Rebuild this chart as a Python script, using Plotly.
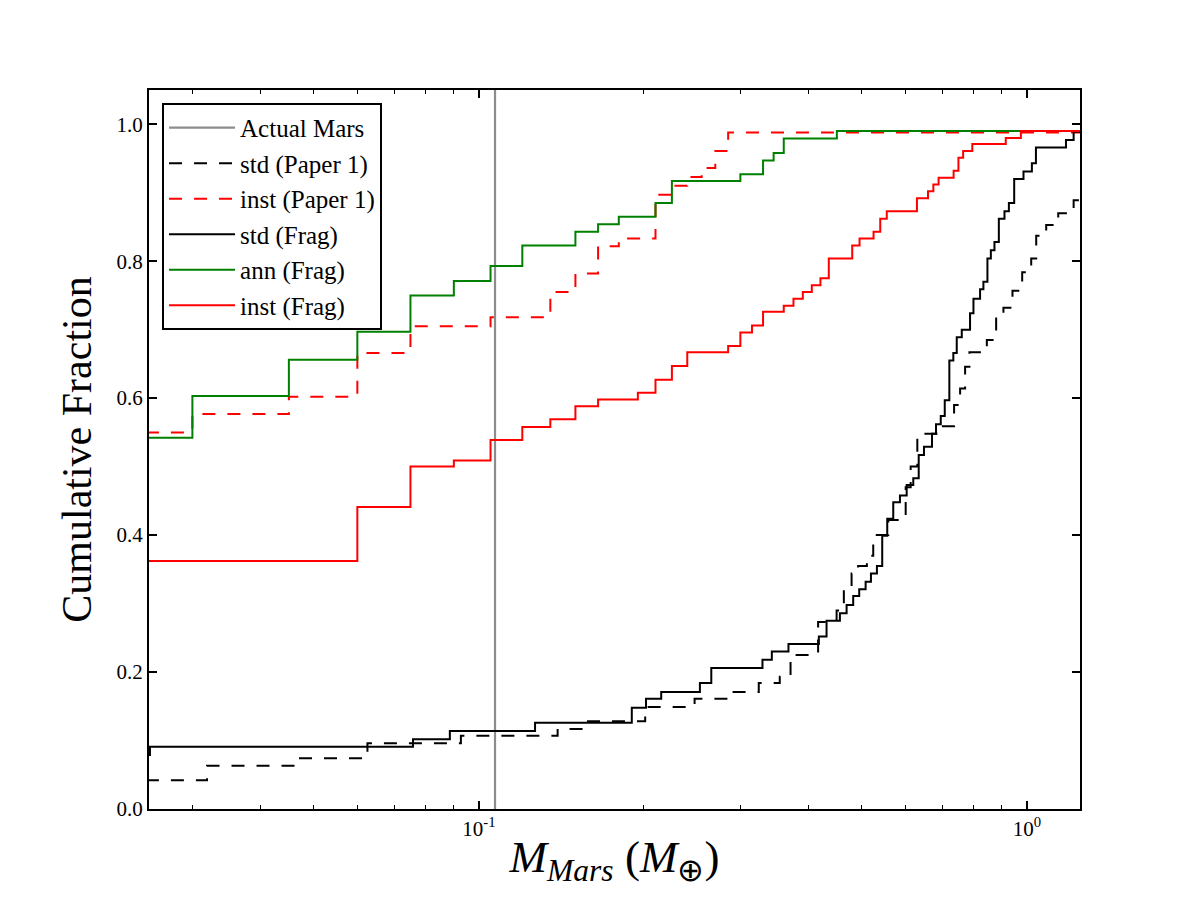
import math
import plotly.graph_objects as go

# ---------------- data ----------------
mars_mass = 0.107

# inst (Paper 1) - red dashed: jump positions and cumulative fraction after each jump
inst_p1_x = [0.02, 0.030, 0.045, 0.060, 0.075, 0.105, 0.135, 0.150, 0.165, 0.180,
             0.210, 0.225, 0.240, 0.255, 0.270, 0.285, 1.3]
inst_p1_y = [0.550, 0.577, 0.602, 0.666, 0.705, 0.718, 0.755, 0.782, 0.822, 0.833,
             0.897, 0.910, 0.923, 0.936, 0.961, 0.988, 0.988]

# ann (Frag) - green solid
ann_fr_x = [0.02, 0.030, 0.045, 0.060, 0.075, 0.090, 0.105, 0.120, 0.150, 0.165,
            0.180, 0.210, 0.225, 0.300, 0.330, 0.345, 0.360, 0.450, 1.3]
ann_fr_y = [0.542, 0.603, 0.656, 0.697, 0.750, 0.771, 0.793, 0.823, 0.843, 0.854,
            0.865, 0.885, 0.917, 0.927, 0.947, 0.958, 0.979, 0.990, 0.990]

# inst (Frag) - red solid
inst_fr_x = [0.02, 0.060, 0.075, 0.090, 0.105, 0.120, 0.135, 0.150, 0.165, 0.195,
             0.210, 0.225, 0.240, 0.285, 0.300, 0.315, 0.330, 0.360, 0.375, 0.390,
             0.405, 0.420, 0.435, 0.480, 0.495, 0.525, 0.540, 0.555, 0.630, 0.660,
             0.675, 0.690, 0.735, 0.750, 0.765, 0.795, 0.915, 0.975, 1.3]
inst_fr_y = [0.362, 0.441, 0.500, 0.509, 0.539, 0.558, 0.569, 0.588, 0.598, 0.608,
             0.627, 0.647, 0.667, 0.676, 0.696, 0.706, 0.726, 0.735, 0.745, 0.755,
             0.765, 0.775, 0.804, 0.823, 0.833, 0.843, 0.862, 0.873, 0.892, 0.902,
             0.912, 0.922, 0.932, 0.951, 0.961, 0.971, 0.980, 0.990, 0.990]

# std (Frag) - black solid
std_fr_x = [0.02, 0.0251, 0.0758, 0.0885, 0.1266, 0.1901, 0.2018, 0.2151, 0.2531, 0.2655,
            0.3292, 0.3424, 0.3672, 0.4172, 0.4309, 0.4558, 0.4688, 0.4820, 0.4943,
            0.5078, 0.5193, 0.5325, 0.5445, 0.5561, 0.5703, 0.5866, 0.6034, 0.6204,
            0.6347, 0.6489, 0.6712, 0.6826, 0.6963, 0.7081, 0.7219, 0.7341, 0.7447,
            0.7606, 0.7875, 0.7989, 0.8214, 0.8330, 0.8472, 0.8594, 0.8726, 0.8888,
            0.9101, 0.9271, 0.9480, 0.9858, 1.0212, 1.0387, 1.1785, 1.2170, 1.3]
std_fr_y = [0.079, 0.091, 0.102, 0.114, 0.126, 0.148, 0.161, 0.171, 0.184, 0.206,
            0.218, 0.230, 0.241, 0.252, 0.275, 0.286, 0.298, 0.311, 0.321,
            0.332, 0.344, 0.355, 0.399, 0.424, 0.448, 0.458, 0.473, 0.483,
            0.517, 0.529, 0.548, 0.562, 0.574, 0.597, 0.655, 0.666, 0.689,
            0.700, 0.724, 0.745, 0.759, 0.770, 0.804, 0.816, 0.828, 0.862,
            0.873, 0.885, 0.920, 0.931, 0.943, 0.966, 0.977, 0.989, 0.989]

# std (Paper 1) - black dashed
std_p1_x = [0.02, 0.0319, 0.0463, 0.0626, 0.0927, 0.1392, 0.1558, 0.2011, 0.2475, 0.2888,
            0.3241, 0.3540, 0.3704, 0.4159, 0.4495, 0.4634, 0.4787, 0.4921, 0.5105,
            0.5243, 0.5585, 0.6009, 0.6136, 0.6310, 0.6992, 0.7364, 0.7553, 0.7713,
            0.7855, 0.8451, 0.8788, 0.9061, 0.9412, 0.9804, 1.0183, 1.0399, 1.0845,
            1.1407, 1.2170, 1.3]
std_p1_y = [0.042, 0.063, 0.074, 0.096, 0.107, 0.117, 0.128, 0.149, 0.161, 0.171,
            0.184, 0.193, 0.225, 0.273, 0.290, 0.320, 0.344, 0.355, 0.370,
            0.400, 0.422, 0.470, 0.500, 0.548, 0.559, 0.590, 0.614, 0.646,
            0.667, 0.685, 0.720, 0.732, 0.757, 0.784, 0.804, 0.837, 0.853,
            0.870, 0.889, 0.889]

x_range = [0.025, 1.25]
y_range = [0.0, 1.05]
y_ticks = [0.0, 0.2, 0.4, 0.6, 0.8, 1.0]
x_major = [0.1, 1.0]
x_major_text = ["10<sup>-1</sup>", "10<sup>0</sup>"]
x_minor = [0.03, 0.04, 0.05, 0.06, 0.07, 0.08, 0.09, 0.2, 0.3, 0.4, 0.5, 0.6, 0.7, 0.8, 0.9]

# ---------------- figure ----------------
FONT = "Liberation Serif, Times New Roman, serif"
DASH = "13px,12px"

fig = go.Figure()

fig.add_trace(go.Scatter(x=[mars_mass, mars_mass], y=y_range, mode="lines",
                         line=dict(color="#8c8c8c", width=2.2), name="Actual Mars",
                         legendgroup="a"))
fig.add_trace(go.Scatter(x=std_p1_x, y=std_p1_y, mode="lines", line_shape="hv",
                         line=dict(color="black", width=2, dash=DASH),
                         name="std (Paper 1)", legendgroup="b"))
fig.add_trace(go.Scatter(x=inst_p1_x, y=inst_p1_y, mode="lines", line_shape="hv",
                         line=dict(color="#ff0000", width=2, dash=DASH),
                         name="inst (Paper 1)", legendgroup="c"))
fig.add_trace(go.Scatter(x=std_fr_x, y=std_fr_y, mode="lines", line_shape="hv",
                         line=dict(color="black", width=2),
                         name="std (Frag)", legendgroup="d"))
fig.add_trace(go.Scatter(x=ann_fr_x, y=ann_fr_y, mode="lines", line_shape="hv",
                         line=dict(color="#008000", width=2),
                         name="ann (Frag)", legendgroup="e"))
fig.add_trace(go.Scatter(x=inst_fr_x, y=inst_fr_y, mode="lines", line_shape="hv",
                         line=dict(color="#ff0000", width=2),
                         name="inst (Frag)", legendgroup="f"))

fig.update_layout(
    width=1200, height=900,
    margin=dict(l=149, r=120, t=90, b=91),
    paper_bgcolor="white", plot_bgcolor="white",
    font=dict(family=FONT, size=20, color="black"),
    showlegend=True,
    legend=dict(x=0.014, y=0.982, xanchor="left", yanchor="top",
                bgcolor="white", bordercolor="black", borderwidth=2,
                font=dict(family=FONT, size=25, color="black"),
                tracegroupgap=0, itemwidth=66),
)

fig.update_xaxes(
    type="log", range=[math.log10(x_range[0]), math.log10(x_range[1])],
    tickvals=x_major, ticktext=x_major_text,
    ticks="inside", ticklen=8, tickwidth=1.5, tickcolor="black",
    showline=True, linecolor="black", linewidth=2, mirror="allticks",
    showgrid=False, zeroline=False,
    tickfont=dict(family=FONT, size=21),
    minor=dict(tickvals=x_minor, ticks="inside", ticklen=4, tickwidth=1, tickcolor="black",
               showgrid=False),
    title=dict(text="<i>M</i><sub><i>Mars</i></sub> (<i>M</i><sub>⊕</sub>)",
               font=dict(family=FONT, size=45), standoff=0),
)
fig.update_yaxes(
    range=y_range, tickvals=y_ticks, tickformat=".1f",
    ticks="inside", ticklen=8, tickwidth=1.5, tickcolor="black",
    showline=True, linecolor="black", linewidth=2, mirror="allticks",
    showgrid=False, zeroline=False,
    tickfont=dict(family=FONT, size=21),
    title=dict(text="Cumulative Fraction", font=dict(family=FONT, size=42), standoff=12),
)

fig.write_html("out.html")
